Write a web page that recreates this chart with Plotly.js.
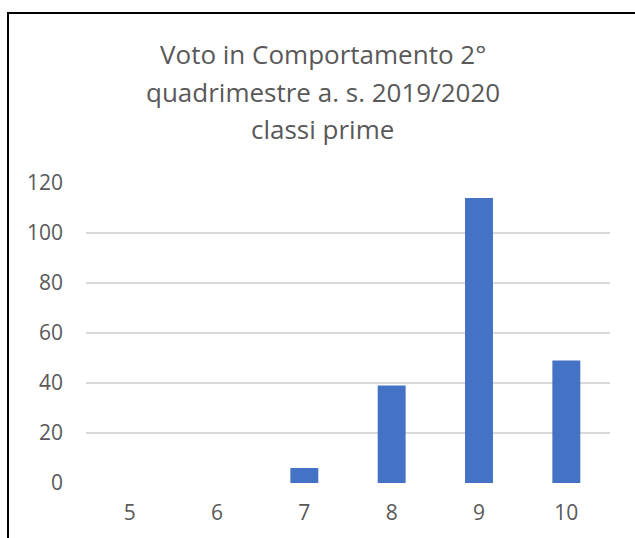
<!DOCTYPE html>
<html>
<head>
<meta charset="utf-8">
<script src="https://cdn.plot.ly/plotly-3.0.1.min.js"></script>
<style>
html,body{margin:0;padding:0;background:#fff;}
#frame{position:absolute;left:7px;top:12px;width:640px;height:540px;border-left:2px solid #000;border-top:2px solid #000;}
#chart{position:absolute;left:0;top:0;width:635px;height:538px;}
</style>
</head>
<body>
<div id="frame"></div>
<div id="chart"></div>
<script>
const categories = ["5", "6", "7", "8", "9", "10"];
const counts = [0, 0, 6, 39, 114, 49];
const yTicks = [0, 20, 40, 60, 80, 100, 120];
const titleLines = ["Voto in Comportamento 2°", "quadrimestre a. s. 2019/2020", "classi prime"];

const trace = {
  type: "bar",
  x: categories,
  y: counts,
  marker: {color: "#4472C4"},
  hoverinfo: "x+y"
};

const titleY = [1.43, 1.305, 1.18];
const annotations = titleLines.map((t, i) => ({
  text: t,
  xref: "paper", yref: "paper",
  x: 0.452, y: titleY[i],
  xanchor: "center", yanchor: "middle",
  showarrow: false,
  font: {family: "Open Sans, sans-serif", size: 26, color: "#595959"}
}));

const layout = {
  width: 635,
  height: 538,
  margin: {l: 86, r: 25, t: 183, b: 55},
  paper_bgcolor: "rgba(0,0,0,0)",
  plot_bgcolor: "rgba(0,0,0,0)",
  bargap: 0.68,
  showlegend: false,
  font: {family: "Open Sans, sans-serif", color: "#595959"},
  annotations: annotations,
  xaxis: {
    type: "category",
    showgrid: false,
    zeroline: false,
    showline: false,
    ticks: "",
    tickfont: {family: "Open Sans, sans-serif", size: 21, color: "#595959"},
    ticklabelstandoff: 15
  },
  yaxis: {
    range: [0, 120],
    tickvals: yTicks,
    ticktext: yTicks.map(String),
    showgrid: true,
    gridcolor: "#d9d9d9",
    gridwidth: 1.3,
    zeroline: false,
    showline: false,
    ticks: "",
    ticklabelstandoff: 22,
    tickfont: {family: "Open Sans, sans-serif", size: 21, color: "#595959"}
  }
};

Plotly.newPlot("chart", [trace], layout, {displayModeBar: false, staticPlot: true});
</script>
</body>
</html>
